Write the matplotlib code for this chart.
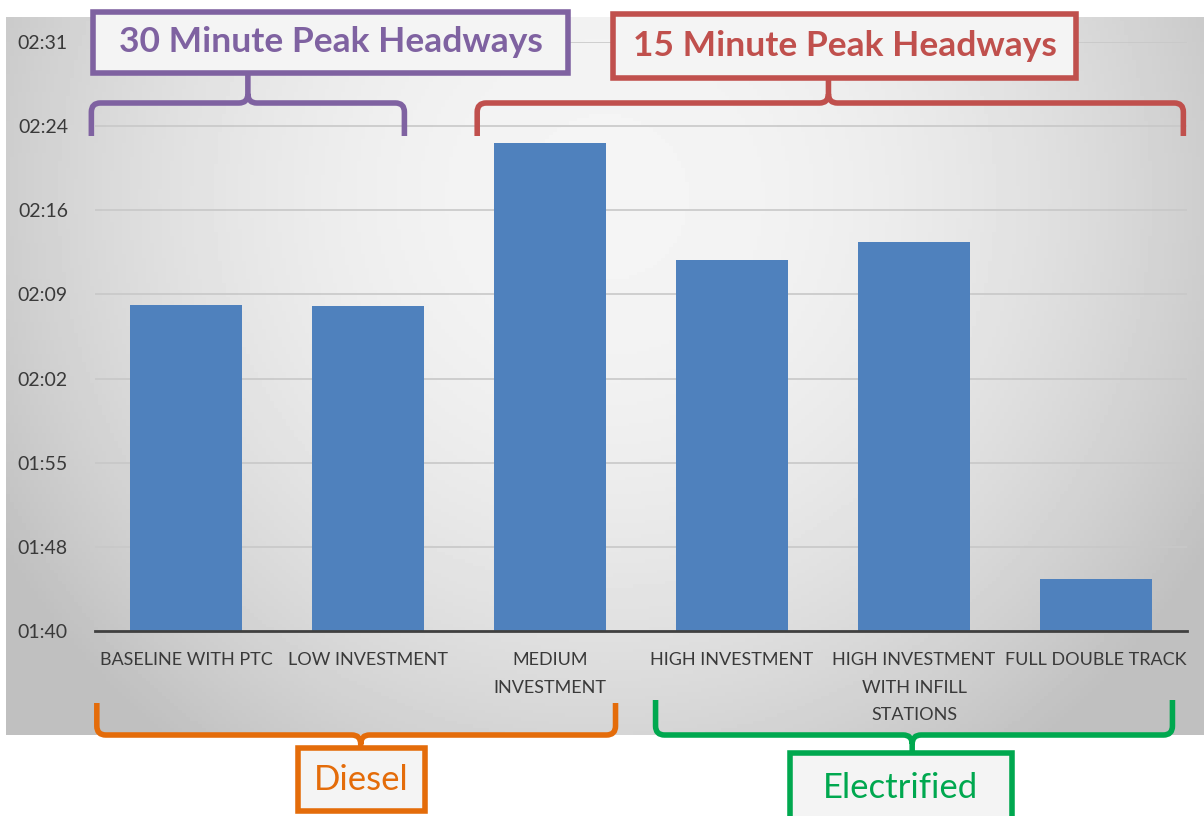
import numpy as np
import matplotlib.pyplot as plt
from matplotlib.path import Path
from matplotlib.patches import PathPatch, Rectangle
from matplotlib.transforms import IdentityTransform

plt.rcParams["font.family"] = ["Lato", "DejaVu Sans"]

# scenarios and run time (minutes)
categories = [
    "BASELINE WITH PTC",
    "LOW INVESTMENT",
    "MEDIUM\nINVESTMENT",
    "HIGH INVESTMENT",
    "HIGH INVESTMENT\nWITH INFILL\nSTATIONS",
    "FULL DOUBLE TRACK",
]
run_time = [128.7, 128.6, 142.6, 132.55, 134.1, 105.25]

# axis in minutes: 0.070 to 0.105 day, step 0.005 day
y_min = 100.8
y_step = 7.2
n_steps = 7


def hhmm(m):
    m = round(m, 6)
    return "%02d:%02d" % (int(m // 60), int(m % 60))


W, H = 1204, 816
fig = plt.figure(figsize=(W / 100, H / 100), dpi=100)
fig.patch.set_facecolor("white")

# gray gradient panel
bg = fig.add_axes([6 / W, (H - 735) / H, 1198 / W, 718 / H])
gx, gy = np.meshgrid(np.linspace(0, 1, 300), np.linspace(0, 1, 200))
r = np.sqrt(((gx - 0.5) / 0.6) ** 2 + ((gy - 0.25) / 1.0) ** 2)
shade = np.clip(0.96 - 0.22 * r**2, 0.75, 1)
bg.imshow(shade, cmap="gray", vmin=0, vmax=1, aspect="auto", extent=[0, 1, 1, 0])
bg.set_axis_off()

ax = fig.add_axes([95 / W, (H - 631) / H, 1092 / W, 589 / H])
ax.set_facecolor("none")
x = np.arange(len(categories))
ax.bar(x, run_time, width=0.61, color="#4f81bd", zorder=2)
ax.set_xlim(-0.5, len(categories) - 0.5)
ax.set_ylim(y_min, y_min + n_steps * y_step)
ticks = [y_min + k * y_step for k in range(n_steps + 1)]
ax.set_yticks(ticks)
ax.set_yticklabels([hhmm(t) for t in ticks])
ax.set_xticks(x)
ax.set_xticklabels(categories, linespacing=1.9)
ax.tick_params(axis="both", length=0, labelsize=13, colors="#3a3a3a")
ax.tick_params(axis="y", labelsize=14, pad=19.5)
ax.tick_params(axis="x", pad=15)
ax.yaxis.grid(True, color="#c8c8c8", linewidth=1.2)
ax.set_axisbelow(True)
for s in ["top", "right", "left"]:
    ax.spines[s].set_visible(False)
ax.spines["bottom"].set_color("#404040")
ax.spines["bottom"].set_linewidth(2)
ax.spines["bottom"].set_zorder(3)


def px(xd):
    # data x -> figure pixel x
    return ax.transData.transform((xd, 0))[0]


def brace(x0, x1, xc, y_bar, y_end, y_tip, color, rad=9):
    # curly bracket drawn in pixel space (y measured from the top)
    yb, ye, yt = H - y_bar, H - y_end, H - y_tip
    se = np.sign(ye - yb)
    st = np.sign(yt - yb)
    verts = [
        (x0, ye), (x0, yb + se * rad), (x0, yb), (x0 + rad, yb),
        (xc - rad, yb), (xc, yb), (xc, yb + st * rad), (xc, yt),
        (xc, yb + st * rad), (xc, yb), (xc + rad, yb),
        (x1 - rad, yb), (x1, yb), (x1, yb + se * rad), (x1, ye),
    ]
    codes = [
        Path.MOVETO, Path.LINETO, Path.CURVE3, Path.CURVE3,
        Path.LINETO, Path.CURVE3, Path.CURVE3, Path.LINETO,
        Path.MOVETO, Path.CURVE3, Path.CURVE3,
        Path.LINETO, Path.CURVE3, Path.CURVE3, Path.LINETO,
    ]
    fig.add_artist(PathPatch(Path(verts, codes), fill=False, edgecolor=color,
                             linewidth=4, capstyle="butt", joinstyle="round",
                             transform=IdentityTransform()))


def label_box(x0, x1, y0, y1, text, color, bold):
    fig.add_artist(Rectangle((x0, H - y1), x1 - x0, y1 - y0, facecolor="#f4f4f4",
                             edgecolor=color, linewidth=4,
                             transform=IdentityTransform()))
    fig.text((x0 + x1) / 2 / W, (H - (y0 + y1) / 2) / H, text, color=color,
             fontsize=25.5 if bold else 25, fontweight="bold" if bold else "normal",
             ha="center", va="center")


purple, red, orange, green = "#7f62a1", "#c0504d", "#e46c0a", "#00a84f"

brace(px(-0.52), px(1.2), px(0.34), 103, 136, 75, purple)
label_box(93, 568, 12, 73, "30 Minute Peak Headways", purple, True)
brace(px(1.6), px(5.48), px(3.53), 103, 136, 78, red)
label_box(613, 1076, 14, 78, "15 Minute Peak Headways", red, True)

brace(px(-0.49), px(2.36), px(0.96), 735, 703, 750, orange)
label_box(298, 425, 748, 811, "Diesel", orange, False)
brace(px(2.58), px(5.42), px(3.99), 735, 700, 755, green)
label_box(790, 1012, 753, 822, "Electrified", green, False)

fig.savefig("out.png", dpi=100)
